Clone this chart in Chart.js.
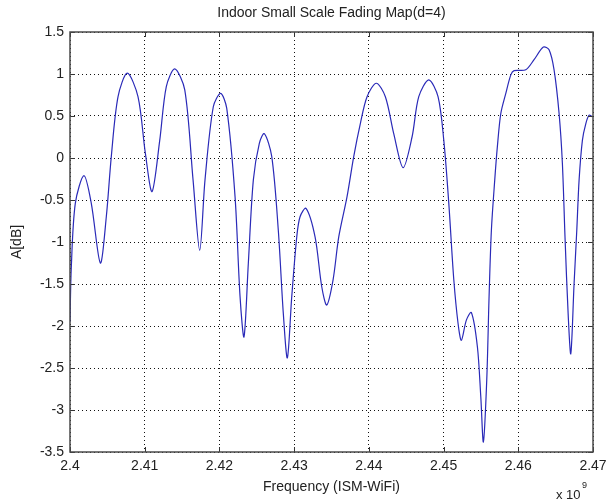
<!DOCTYPE html>
<html>
<head>
<meta charset="utf-8">
<script src="https://cdn.jsdelivr.net/npm/chart.js@4"></script>
<style>
  html, body { margin: 0; padding: 0; background: #fff; }
  canvas { display: block; }
</style>
</head>
<body>
<canvas id="fading" width="615" height="504"></canvas>
<script>
// frequency in units of 1e9 Hz
const freqGHz = [
  2.40000, 2.40017, 2.40071, 2.40187, 2.40285, 2.40406, 2.40486, 2.40553, 2.40643, 2.40767,
  2.40910, 2.41008, 2.41098, 2.41201, 2.41289, 2.41402, 2.41536, 2.41647, 2.41736, 2.41807,
  2.41918, 2.42017, 2.42098, 2.42209, 2.42276, 2.42329, 2.42387, 2.42454, 2.42534, 2.42601,
  2.42700, 2.42788, 2.42855, 2.42909, 2.42968, 2.43035, 2.43079, 2.43159, 2.43280, 2.43369,
  2.43436, 2.43521, 2.43597, 2.43708, 2.43798, 2.43886, 2.43976, 2.44100, 2.44221, 2.44333,
  2.44458, 2.44578, 2.44668, 2.44802, 2.44926, 2.45003, 2.45070, 2.45137, 2.45194, 2.45238,
  2.45305, 2.45372, 2.45453, 2.45498, 2.45533, 2.45578, 2.45609, 2.45640, 2.45685, 2.45720,
  2.45766, 2.45833, 2.45900, 2.45944, 2.46100, 2.46211, 2.46336, 2.46412, 2.46479, 2.46546,
  2.46590, 2.46627, 2.46667, 2.46703, 2.46747, 2.46783, 2.46814, 2.46858, 2.46904, 2.46948,
  2.46990
];
// amplitude in dB
const ampDb = [
  -1.95, -1.31, -0.54, -0.21, -0.54, -1.25, -0.70, 0.02, 0.73, 1.01,
  0.73, 0.06, -0.40, 0.21, 0.85, 1.06, 0.81, -0.26, -1.10, -0.26,
  0.61, 0.77, 0.59, -0.46, -1.65, -2.13, -1.25, -0.26, 0.175, 0.29,
  0.02, -0.86, -1.85, -2.38, -1.65, -0.94, -0.70, -0.60, -0.94, -1.53,
  -1.75, -1.45, -0.94, -0.46, 0.02, 0.41, 0.73, 0.89, 0.73, 0.29,
  -0.115, 0.25, 0.73, 0.93, 0.73, 0.21, -0.54, -1.45, -1.97, -2.17,
  -1.93, -1.84, -2.25, -2.84, -3.38, -2.64, -1.65, -0.86, -0.26, 0.135,
  0.53, 0.77, 0.99, 1.04, 1.05, 1.17, 1.32, 1.29, 1.05, 0.53,
  -0.06, -0.98, -1.85, -2.33, -1.49, -0.86, -0.26, 0.21, 0.41, 0.51,
  0.49
];
const xTicks = [2.4, 2.41, 2.42, 2.43, 2.44, 2.45, 2.46, 2.47];
const yTicks = [1.5, 1, 0.5, 0, -0.5, -1, -1.5, -2, -2.5, -3, -3.5];
const chartTitle = 'Indoor Small Scale Fading Map(d=4)';

const FONT = "'Liberation Sans', Arial, sans-serif";
const fmt = v => String(Number(v.toFixed(2)));

// matlab style box, inward ticks, title over the axes and the exponent label
const matlabFrame = {
  id: 'matlabFrame',
  afterDraw(chart) {
    const { ctx, chartArea: a, scales } = chart;
    ctx.save();
    ctx.strokeStyle = '#333';
    ctx.lineWidth = 1;
    ctx.beginPath();
    xTicks.forEach(t => {
      const x = Math.round(scales.x.getPixelForValue(t)) + 0.5;
      ctx.moveTo(x, a.bottom); ctx.lineTo(x, a.bottom - 5);
      ctx.moveTo(x, a.top); ctx.lineTo(x, a.top + 5);
    });
    yTicks.forEach(t => {
      const y = Math.round(scales.y.getPixelForValue(t)) + 0.5;
      ctx.moveTo(a.left, y); ctx.lineTo(a.left + 5, y);
      ctx.moveTo(a.right, y); ctx.lineTo(a.right - 5, y);
    });
    ctx.stroke();
    ctx.strokeStyle = '#4a4a4a';
    ctx.lineWidth = 1.5;
    ctx.strokeRect(a.left, a.top, a.right - a.left, a.bottom - a.top);

    ctx.fillStyle = '#222';
    ctx.textBaseline = 'middle';
    ctx.textAlign = 'center';
    ctx.font = '14px ' + FONT;
    ctx.fillText(chartTitle, (a.left + a.right) / 2, 13);

    ctx.textAlign = 'left';
    ctx.font = '13px ' + FONT;
    ctx.fillText('x 10', 556, 495);
    ctx.font = '9px ' + FONT;
    ctx.fillText('9', 582, 486);
    ctx.restore();
  }
};

new Chart(document.getElementById('fading'), {
  type: 'line',
  data: {
    datasets: [{
      data: freqGHz.map((f, i) => ({ x: f, y: ampDb[i] })),
      borderColor: '#2a2ab8',
      borderWidth: 1.2,
      pointRadius: 0,
      fill: false,
      tension: 0.3
    }]
  },
  options: {
    responsive: false,
    animation: false,
    layout: { padding: { top: 32, right: 22, bottom: 0, left: 0 } },
    plugins: {
      legend: { display: false },
      tooltip: { enabled: false },
      title: { display: false }
    },
    scales: {
      x: {
        type: 'linear',
        min: 2.4,
        max: 2.47,
        afterBuildTicks: s => { s.ticks = xTicks.map(v => ({ value: v })); },
        afterFit: s => { s.height = 52; },
        grid: { color: '#111', lineWidth: 1, drawTicks: false },
        border: { display: false, dash: [1, 3] },
        ticks: {
          callback: v => fmt(v),
          color: '#222',
          padding: 6,
          maxRotation: 0,
          autoSkip: false,
          font: { family: FONT, size: 14 }
        },
        title: {
          display: true,
          text: 'Frequency (ISM-WiFi)',
          color: '#222',
          font: { family: FONT, size: 14 },
          padding: { top: 0, bottom: 8 }
        }
      },
      y: {
        min: -3.5,
        max: 1.5,
        afterBuildTicks: s => { s.ticks = yTicks.map(v => ({ value: v })); },
        afterFit: s => { s.width = 70; },
        grid: { color: '#111', lineWidth: 1, drawTicks: false },
        border: { display: false, dash: [1, 3] },
        ticks: {
          callback: v => fmt(v),
          color: '#222',
          padding: 6,
          autoSkip: false,
          font: { family: FONT, size: 14 }
        },
        title: {
          display: true,
          text: 'A[dB]',
          color: '#222',
          font: { family: FONT, size: 14 },
          padding: { top: 9, bottom: 0 }
        }
      }
    }
  },
  plugins: [matlabFrame]
});
</script>
</body>
</html>
